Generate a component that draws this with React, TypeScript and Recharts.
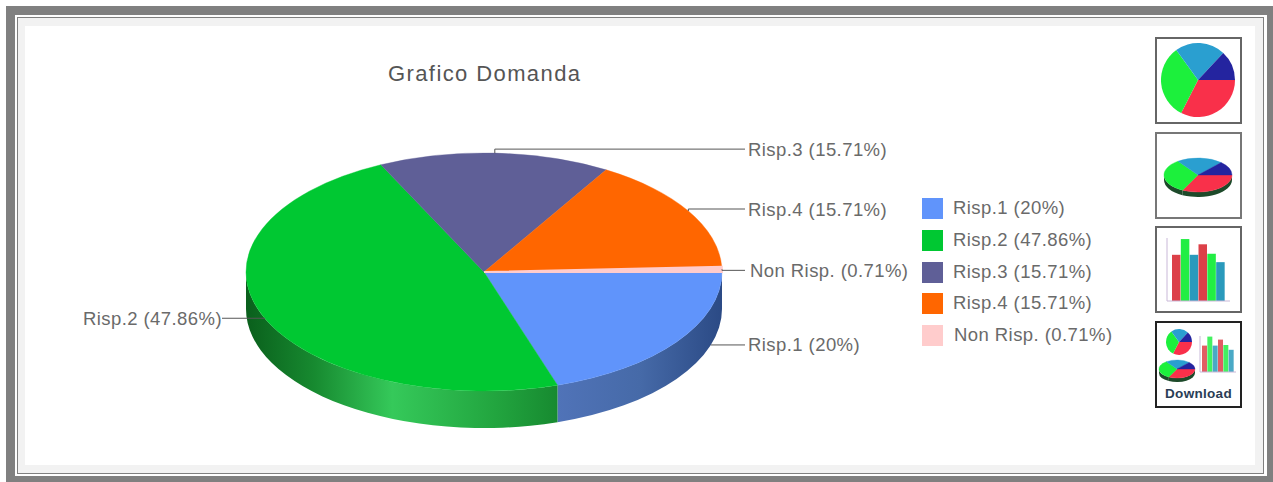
import React from "react";
import { PieChart, Pie, BarChart, Bar, Cell, XAxis, YAxis, Legend } from "recharts";

const categories = ["Risp.1", "Risp.2", "Risp.3", "Risp.4", "Non Risp."];
const values = [20, 47.86, 15.71, 15.71, 0.71];
const colors = ["#6094fb", "#00c832", "#5f5f97", "#ff6600", "#ffcccc"];
const wallFills = ["url(#wallBlue)", "url(#wallGreen)", "#5f5f97", "#ff6600", "#ffcccc"];

const iconPieValues = [117, 117, 79, 47];
const iconPieColors = ["#f9304a", "#1cf03c", "#2a9fd0", "#24249f"];
const iconBarValues = [44, 59, 44, 54, 45, 37];
const iconBarColors = ["#dc4048", "#22ee44", "#2a9abc", "#dc4048", "#22ee44", "#2a9abc"];

const rows = categories.map((name, i) => ({ name, value: values[i], fill: colors[i] }));
const wallRows = categories.map((name, i) => ({ name, value: values[i], fill: wallFills[i] }));
const iconPieRows = iconPieValues.map((value, i) => ({ name: "p" + i, value, fill: iconPieColors[i] }));
const iconBarRows = iconBarValues.map((value, i) => ({ name: "b" + i, value }));

const FONT = '"Liberation Sans", Arial, sans-serif';
const TEXT = "#6a6a6a";
const LABEL_SIZE = 18.5;
const LABEL_SPACING = 0.43;
const RATIO = 0.5;
const DEPTH = 37;
const RAD = Math.PI / 180;

const pt = (cx: number, cy: number, rx: number, ry: number, cw: number) => [
  cx + rx * Math.cos(cw * RAD),
  cy + ry * Math.sin(cw * RAD),
];

function TopFace(p: any) {
  const { cx, cy, outerRadius: rx, startAngle, endAngle, fill, ratio = RATIO } = p;
  const ry = rx * ratio;
  const a = -startAngle;
  const b = -endAngle;
  const [x1, y1] = pt(cx, cy, rx, ry, a);
  const [x2, y2] = pt(cx, cy, rx, ry, b);
  const large = b - a > 180 ? 1 : 0;
  const d = `M${cx},${cy}L${x1},${y1}A${rx},${ry} 0 ${large} 1 ${x2},${y2}Z`;
  return <path d={d} fill={fill} stroke={fill} strokeWidth={b - a < 5 ? 2 : 0.4} />;
}

function WallFace(p: any) {
  const { cx, cy, outerRadius: rx, startAngle, endAngle, fill, ratio = RATIO, depth = DEPTH } = p;
  const ry = rx * ratio;
  const a = Math.max(0, -startAngle);
  const b = Math.min(180, -endAngle);
  if (b <= a) return null;
  const [x1, y1] = pt(cx, cy, rx, ry, a);
  const [x2, y2] = pt(cx, cy, rx, ry, b);
  const d = `M${x1},${y1}A${rx},${ry} 0 0 1 ${x2},${y2}L${x2},${y2 + depth}A${rx},${ry} 0 0 0 ${x1},${y1 + depth}Z`;
  return <path d={d} fill={fill} />;
}

const labelOffsets: Record<string, number> = { "Risp.1": 3, "Risp.2": 2, "Risp.3": -4, "Risp.4": -2, "Non Risp.": 1 };

function PieLabel(p: any) {
  const { cx, cy, outerRadius: rx, midAngle, name, value } = p;
  const ry = rx * RATIO;
  const [mx, my] = pt(cx, cy, rx, ry, -midAngle);
  const y = my + (labelOffsets[name] ?? 0);
  const text = `${name} (${value}%)`;
  const common = { fontFamily: FONT, fontSize: LABEL_SIZE, fill: TEXT, letterSpacing: LABEL_SPACING, dominantBaseline: "central" as const };
  if (mx < cx) {
    return (
      <g>
        <path d={`M${cx - 262},${y}H${mx + 2}`} stroke="#555" fill="none" strokeWidth={1} />
        <text x={cx - 262} y={y} textAnchor="end" {...common}>{text}</text>
      </g>
    );
  }
  const behindWall = my > cy + 40;
  const sin = (y - DEPTH - cy) / ry;
  const startX = behindWall ? cx + rx * Math.sqrt(1 - sin * sin) : mx;
  const endX = cx + 261;
  const textX = name === "Non Risp." ? cx + 266 : cx + 264;
  return (
    <g>
      <path d={`M${startX},${behindWall ? y : my}V${y}H${endX}`} stroke="#555" fill="none" strokeWidth={1} />
      <text x={textX} y={y} {...common}>{text}</text>
    </g>
  );
}

const legendRowTops = [0, 32, 64, 95, 127];

function LegendBox() {
  return (
    <div>
      {rows.map((row, i) => (
        <div key={row.name} style={{ position: "absolute", left: 0, top: legendRowTops[i], height: 21, width: 210 }}>
          <div style={{ position: "absolute", left: 0, top: 0, width: 21, height: 21, background: row.fill }} />
          <div style={{ position: "absolute", left: row.name === "Non Risp." ? 32 : 31, top: -1, lineHeight: "21px", fontFamily: FONT, fontSize: LABEL_SIZE, letterSpacing: LABEL_SPACING, color: TEXT, whiteSpace: "nowrap" }}>
            {row.name} ({row.value}%)
          </div>
        </div>
      ))}
    </div>
  );
}

const box = (top: number, color = "#666666"): React.CSSProperties => ({
  position: "absolute", left: 1155, top, width: 83, height: 83, border: `2px solid ${color}`, background: "#fff", overflow: "hidden",
});

function IconPie({ width, height, cx, cy, r }: any) {
  return (
    <PieChart width={width} height={height} margin={{ top: 0, right: 0, bottom: 0, left: 0 }}>
      <Pie data={iconPieRows} dataKey="value" nameKey="name" cx={cx} cy={cy} outerRadius={r} startAngle={0} endAngle={-360} stroke="none" isAnimationActive={false} />
    </PieChart>
  );
}

function IconPie3D({ width, height, cx, cy, r, depth }: any) {
  const walls = iconPieRows.map((d) => ({ ...d, fill: "#1d4a2a" }));
  return (
    <PieChart width={width} height={height} margin={{ top: 0, right: 0, bottom: 0, left: 0 }}>
      <Pie data={walls} dataKey="value" nameKey="name" cx={cx} cy={cy} outerRadius={r} startAngle={0} endAngle={-360} stroke="none" isAnimationActive={false} shape={(p: any) => <WallFace {...p} ratio={0.5} depth={depth} />} />
      <Pie data={iconPieRows} dataKey="value" nameKey="name" cx={cx} cy={cy} outerRadius={r} startAngle={0} endAngle={-360} stroke="none" isAnimationActive={false} shape={(p: any) => <TopFace {...p} ratio={0.5} />} />
    </PieChart>
  );
}

function IconBars({ width, height, barSize, pad, opacity = 1 }: any) {
  return (
    <BarChart width={width} height={height} data={iconBarRows} margin={{ top: 0, right: 0, bottom: 0, left: 0 }} barCategoryGap={0}>
      <XAxis dataKey="name" tick={false} height={1} stroke="#c9b8d8" padding={{ left: pad, right: pad }} />
      <YAxis domain={[0, 60]} tick={false} width={1} stroke="#c9b8d8" />
      <Bar dataKey="value" barSize={barSize} isAnimationActive={false} opacity={opacity}>
        {iconBarRows.map((d, i) => <Cell key={d.name} fill={iconBarColors[i]} />)}
      </Bar>
    </BarChart>
  );
}

const place = (left: number, top: number): React.CSSProperties => ({ position: "absolute", left, top });

export default function App() {
  return (
    <div style={{ position: "absolute", left: 0, top: 0, width: 1273, height: 482, background: "#fff", overflow: "hidden" }}>
      {/* picture frame */}
      <div style={{ position: "absolute", left: 6, top: 6, right: 0, bottom: 0, background: "#808080" }} />
      <div style={{ position: "absolute", left: 15, top: 15, width: 1252, height: 461, background: "#fff" }} />
      <div style={{ position: "absolute", left: 17, top: 17, width: 1247, height: 457, boxSizing: "border-box", border: "1px solid #808080", background: "#f2f2f2" }} />
      <div style={{ position: "absolute", left: 25, top: 26, width: 1230, height: 439, background: "#fff" }} />

      <div style={{ position: "absolute", left: 388, top: 61, fontFamily: FONT, fontSize: 22, letterSpacing: 1.4, color: "#555", whiteSpace: "nowrap", lineHeight: "26px" }}>
        Grafico Domanda
      </div>

      <div style={{ position: "absolute", left: 0, top: 0 }}>
        <PieChart width={1140} height={482} margin={{ top: 0, right: 0, bottom: 0, left: 0 }}>
          <defs>
            <linearGradient id="wallGreen" x1="0" y1="0" x2="1" y2="0">
              <stop offset="0" stopColor="#0a5f1c" />
              <stop offset="0.22" stopColor="#178a30" />
              <stop offset="0.47" stopColor="#35c95a" />
              <stop offset="0.8" stopColor="#22a53f" />
              <stop offset="1" stopColor="#178a30" />
            </linearGradient>
            <linearGradient id="wallBlue" x1="0" y1="0" x2="1" y2="0">
              <stop offset="0" stopColor="#5073b8" />
              <stop offset="0.5" stopColor="#466aa8" />
              <stop offset="1" stopColor="#2b4a85" />
            </linearGradient>
          </defs>
          <Pie data={wallRows} dataKey="value" nameKey="name" cx={484} cy={272} outerRadius={238} startAngle={0} endAngle={-360} stroke="none" legendType="none" isAnimationActive={false} shape={WallFace} />
          <Pie data={rows} dataKey="value" nameKey="name" cx={484} cy={272} outerRadius={238} startAngle={0} endAngle={-360} stroke="none" isAnimationActive={false} shape={TopFace} label={PieLabel} labelLine={false} />
          <Legend content={LegendBox} wrapperStyle={{ position: "absolute", left: 922, top: 198, width: 210, height: 160, bottom: "auto", right: "auto" }} />
        </PieChart>
      </div>

      <div style={box(37)}><div style={place(0, 0)}><IconPie width={83} height={83} cx={41} cy={41} r={37} /></div></div>
      <div style={box(132, "#777")}><div style={place(0, 0)}><IconPie3D width={83} height={83} cx={41} cy={41} r={34} depth={5} /></div></div>
      <div style={box(226)}><div style={place(9, 10)}><IconBars width={64} height={64} barSize={8.5} pad={5} /></div></div>
      <div style={box(321, "#222")}>
        <div style={place(7, 4)}><IconPie width={30} height={30} cx={15} cy={15} r={13} /></div>
        <div style={place(0, 36)}><IconPie3D width={40} height={26} cx={20} cy={10} r={18} depth={4} /></div>
        <div style={place(42, 13)}><IconBars width={37} height={37} barSize={5} pad={2} opacity={0.85} /></div>
        <div style={{ position: "absolute", left: 0, width: 83, top: 63, textAlign: "center", fontFamily: FONT, fontWeight: 700, fontSize: 13.5, letterSpacing: 0.3, color: "#2a3d55", lineHeight: "16px", whiteSpace: "nowrap" }}>Download</div>
      </div>
    </div>
  );
}
